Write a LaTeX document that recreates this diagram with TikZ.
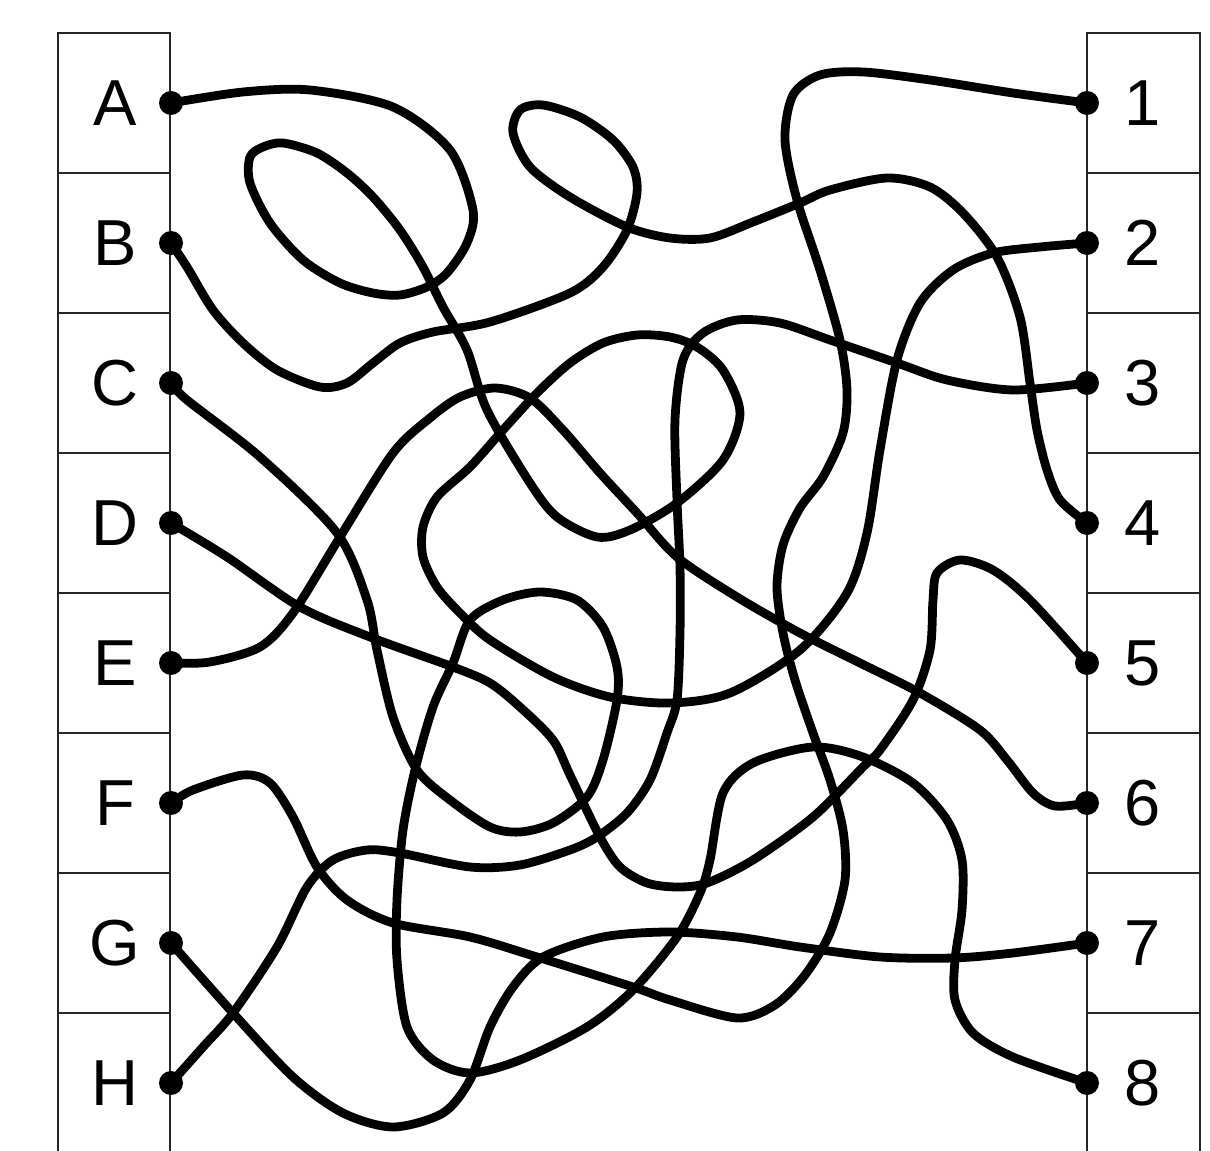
\documentclass[tikz,border=0pt]{standalone}
\usepackage{fontspec}
\setmainfont{Liberation Sans}

\begin{document}
\begin{tikzpicture}[x=0.1mm,y=-0.1mm,
  wire/.style={line width=2.5pt, line cap=round, line join=round},
  cell/.style={line width=0.45pt, draw=black!85},
  dot/.style={circle, fill=black, inner sep=0pt, minimum size=2.4mm},
  tag/.style={font=\fontsize{18.5}{22}\selectfont}]
  \useasboundingbox (0,0) rectangle (1210,1151);

  \foreach \l [count=\i from 0] in {A,B,C,D,E,F,G,H} {
    \draw[cell] (58,33+140*\i) rectangle (170,173+140*\i);
    \node[tag] (l\l) at (115,103+140*\i) {\l};
    \node[dot] (p\l) at (171,103+140*\i) {};
  }
  \foreach \n [count=\i from 0] in {1,...,8} {
    \draw[cell] (1087,33+140*\i) rectangle (1200,173+140*\i);
    \node[tag] (l\n) at (1143,103+140*\i) {\n};
    \node[dot] (r\n) at (1087,103+140*\i) {};
  }

  % A -- 2
  \draw[wire] plot[smooth] coordinates {(pA.center) (243,92) (310,90) (393,107)
    (450,150) (473,210) (467,243) (447,273) (427,287) (400,295) (373,293) (340,283)
    (303,260) (270,223) (250,183) (250,157) (263,147) (283,143) (317,153) (347,173)
    (373,197) (400,230) (423,267) (443,307) (467,350) (487,410) (530,483) (557,517)
    (597,537) (630,530) (677,503) (723,460) (740,413) (723,370) (697,347) (670,337)
    (637,335) (603,343) (570,363) (537,393) (503,430) (470,467) (437,497) (423,527)
    (423,557) (437,587) (460,613) (490,640) (553,677) (610,697) (670,703) (730,693)
    (800,650) (847,593) (867,533) (880,450) (897,360) (920,303) (953,270) (993,253)
    (1040,247) (r2.center)};
  % B -- 4
  \draw[wire] plot[smooth] coordinates {(pB.center) (187,267) (213,310) (243,343)
    (277,370) (320,387) (347,383) (373,363) (400,343) (433,332) (490,322)
    (570,293) (603,267) (627,230) (637,193) (633,167) (613,140) (580,117) (543,105)
    (520,110) (513,133) (530,167) (570,197) (627,227) (670,238) (710,238) (753,222)
    (800,203) (830,190) (887,178) (930,187) (963,213) (997,257) (1020,317) (1030,383)
    (1037,430) (1047,470) (1060,500) (r4.center)};
  % C -- 8
  \draw[wire] plot[smooth] coordinates {(pC.center) (187,400) (260,457) (337,533)
    (367,600) (377,650) (393,717) (417,770) (450,800) (490,827) (520,832) (553,823)
    (587,797) (603,760) (617,700) (617,667) (603,627) (577,600) (540,592) (503,600)
    (470,620) (453,663) (433,707) (415,770) (403,830) (397,900) (397,960) (407,1027)
    (433,1060) (470,1073) (520,1060) (587,1027) (633,990) (677,937) (700,893)
    (710,860) (723,793) (753,763) (813,747) (863,757) (913,783) (947,820) (962,860)
    (962,910) (955,960) (955,1000) (973,1033) (1013,1057) (r8.center)};
  % D -- 5
  \draw[wire] plot[smooth] coordinates {(pD.center) (227,557) (300,607) (370,637)
    (453,667) (490,683) (520,707) (553,740) (570,775) (600,837) (620,867) (647,883)
    (677,887) (707,883) (753,860) (813,817) (863,767) (880,750) (913,700) (930,650)
    (933,600) (937,573) (960,560) (993,570) (1030,600) (r5.center)};
  % E -- 6
  \draw[wire] plot[smooth] coordinates {(pE.center) (210,662) (260,647) (293,613)
    (340,537) (393,453) (430,418) (460,397) (495,388) (530,398) (563,430) (600,473)
    (637,513) (677,557) (737,597) (800,633) (860,663) (920,693) (980,730) (1007,760)
    (1033,793) (1055,806) (r6.center)};
  % F -- 1
  \draw[wire] plot[smooth] coordinates {(pF.center) (193,790) (243,775) (270,783)
    (293,817) (317,867) (347,900) (393,923) (470,937) (537,957) (633,987) (670,1000)
    (737,1018) (775,1005) (805,975) (830,933) (845,880) (843,830) (830,780) (813,733)
    (795,680) (783,633) (777,587) (783,545) (800,508) (823,477) (843,433) (847,390)
    (840,340) (820,270) (797,200) (785,140) (793,95) (820,75) (863,72) (930,80)
    (1013,93) (r1.center)};
  % G -- 7
  \draw[wire] plot[smooth] coordinates {(pG.center) (233,1013) (293,1077) (343,1113)
    (393,1127) (443,1113) (470,1080) (490,1027) (513,987) (543,957) (603,937)
    (670,932) (737,937) (800,947) (880,957) (953,958) (1013,953) (r7.center)};
  % H -- 3
  \draw[wire] plot[smooth] coordinates {(pH.center) (203,1047) (233,1013) (277,947)
    (307,887) (333,860) (367,850) (400,853) (470,867) (520,865) (570,850) (597,837)
    (627,813) (650,780) (667,733) (677,700) (680,633) (680,567) (677,500) (675,420)
    (683,360) (703,333) (737,320) (780,323) (830,340) (897,363) (947,380) (1013,390)
    (r3.center)};
\end{tikzpicture}
\end{document}
